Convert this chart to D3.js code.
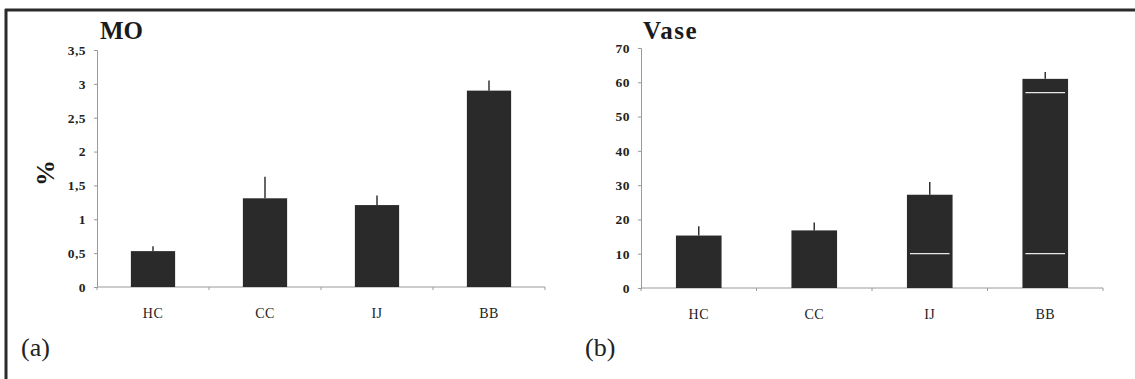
<!DOCTYPE html>
<html>
<head>
<meta charset="utf-8">
<script src="https://cdn.jsdelivr.net/npm/d3@7/dist/d3.min.js"></script>
<style>
  body { margin: 0; background: #fff; }
</style>
</head>
<body>
<div id="chart"></div>
<script>
// categories + values
var categories = ["HC", "CC", "IJ", "BB"];

var moMean = [0.53, 1.31, 1.21, 2.90];
var moErr  = [0.07, 0.32, 0.14, 0.15];
var moTicks = [0, 0.5, 1, 1.5, 2, 2.5, 3, 3.5];

var vaseMean = [15.3, 16.8, 27.2, 61.0];
var vaseErr  = [2.7, 2.3, 3.7, 2.0];
var vaseTicks = [0, 10, 20, 30, 40, 50, 60, 70];
// thin white streaks visible inside some bars
var vaseStreaks = [["IJ", 10], ["BB", 10], ["BB", 57]];

var W = 1135, H = 379;
var serif = "Liberation Serif, DejaVu Serif, serif";

var svg = d3.select("#chart").append("svg")
    .attr("width", W)
    .attr("height", H);

// frame (top + left border)
svg.append("line")
    .attr("x1", 5).attr("x2", W).attr("y1", 10).attr("y2", 10)
    .attr("stroke", "#2b2b2b").attr("stroke-width", 3);
svg.append("line")
    .attr("x1", 6).attr("x2", 6).attr("y1", 9).attr("y2", H)
    .attr("stroke", "#2b2b2b").attr("stroke-width", 3);

var comma = function(d) { return String(d).replace(".", ","); };

function drawPanel(p) {
  var x = d3.scaleBand()
      .domain(categories)
      .range([p.x0, p.x1])
      .paddingInner(0.605)
      .paddingOuter(0.3025);
  var y = d3.scaleLinear()
      .domain([0, p.max])
      .range([p.yBottom, p.yTop]);

  var g = svg.append("g");

  // y axis
  var ya = g.append("g")
      .attr("transform", "translate(" + p.x0 + ",0)")
      .call(d3.axisLeft(y).tickValues(p.ticks).tickSize(3).tickPadding(8).tickFormat(comma))
      .attr("font-family", serif)
      .attr("font-size", 13.5);
  ya.select(".domain").attr("stroke", "#9a9a9a");
  ya.selectAll(".tick line").attr("stroke", "#9a9a9a");
  ya.selectAll(".tick text")
      .attr("font-weight", "bold")
      .attr("letter-spacing", 0.5)
      .attr("fill", "#222");

  // x axis: line with ticks at band boundaries
  var step = x.step();
  var bounds = d3.range(categories.length + 1).map(function(i) { return p.x0 + i * step; });
  g.append("line")
      .attr("x1", p.x0).attr("x2", p.x1)
      .attr("y1", y(0)).attr("y2", y(0))
      .attr("stroke", "#9a9a9a");
  g.selectAll(".xtick").data(bounds).enter().append("line")
      .attr("x1", function(d) { return d; }).attr("x2", function(d) { return d; })
      .attr("y1", y(0)).attr("y2", y(0) + 3)
      .attr("stroke", "#9a9a9a");
  g.selectAll(".xlab").data(categories).enter().append("text")
      .attr("x", function(d) { return x(d) + x.bandwidth() / 2; })
      .attr("y", y(0) + 31)
      .attr("text-anchor", "middle")
      .attr("font-family", serif)
      .attr("font-size", 14)
      .attr("letter-spacing", 0.5)
      .attr("fill", "#222")
      .text(function(d) { return d; });

  // error bars (upper only)
  g.selectAll(".err").data(categories).enter().append("line")
      .attr("x1", function(d) { return x(d) + x.bandwidth() / 2; })
      .attr("x2", function(d) { return x(d) + x.bandwidth() / 2; })
      .attr("y1", function(d, i) { return y(p.mean[i]); })
      .attr("y2", function(d, i) { return y(p.mean[i] + p.err[i]); })
      .attr("stroke", "#333").attr("stroke-width", 1.5);

  // bars
  g.selectAll(".bar").data(categories).enter().append("rect")
      .attr("x", function(d) { return x(d); })
      .attr("width", x.bandwidth())
      .attr("y", function(d, i) { return y(p.mean[i]); })
      .attr("height", function(d, i) { return y(0) - y(p.mean[i]); })
      .attr("fill", "#2a2a2a");

  if (p.streaks) {
    g.selectAll(".streak").data(p.streaks).enter().append("line")
        .attr("x1", function(d) { return x(d[0]) + 3; })
        .attr("x2", function(d) { return x(d[0]) + x.bandwidth() - 3; })
        .attr("y1", function(d) { return y(d[1]); })
        .attr("y2", function(d) { return y(d[1]); })
        .attr("stroke", "#e8e8e8").attr("stroke-width", 1.2);
  }

  // title
  g.append("text")
      .attr("x", p.titleX).attr("y", 39)
      .attr("font-family", serif)
      .attr("font-weight", "bold")
      .attr("font-size", 25)
      .attr("letter-spacing", p.titleSpacing || 0)
      .attr("fill", "#1a1a1a")
      .text(p.title);

  // panel letter
  g.append("text")
      .attr("x", p.letterX).attr("y", 356)
      .attr("font-family", serif)
      .attr("font-size", 26)
      .attr("fill", "#222")
      .text(p.letter);

  if (p.ylabel) {
    g.append("text")
        .attr("transform", "translate(54,173) rotate(-90)")
        .attr("text-anchor", "middle")
        .attr("font-family", serif)
        .attr("font-weight", "bold")
        .attr("font-size", 26)
        .attr("fill", "#1a1a1a")
        .text(p.ylabel);
  }
}

drawPanel({
  x0: 97, x1: 545, yTop: 50, yBottom: 287, max: 3.5,
  mean: moMean, err: moErr, ticks: moTicks,
  title: "MO", titleX: 100, letter: "(a)", letterX: 21, ylabel: "%"
});

drawPanel({
  x0: 641, x1: 1103, yTop: 48, yBottom: 288, max: 70,
  mean: vaseMean, err: vaseErr, ticks: vaseTicks, streaks: vaseStreaks,
  title: "Vase", titleX: 643, titleSpacing: 1.5, letter: "(b)", letterX: 585
});
</script>
</body>
</html>
